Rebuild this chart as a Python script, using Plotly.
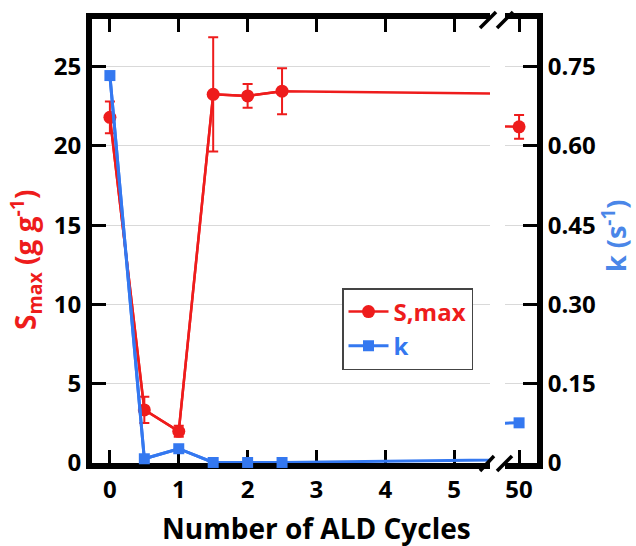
import plotly.graph_objects as go

# ---- data ----
cycles = [0, 0.5, 1, 1.5, 2, 2.5, 50]
s_max = [21.8, 3.35, 2.0, 23.25, 23.15, 23.45, 21.2]
s_err = [1.0, 0.83, 0.35, 3.6, 0.75, 1.45, 0.75]
k_vals = [0.733, 0.008, 0.027, 0.001, 0.001, 0.001, 0.076]

left_ticks = [0, 1, 2, 3, 4, 5]
right_ticks = [50]
s_ticks = [0, 5, 10, 15, 20, 25]
k_ticks = [0, 0.15, 0.30, 0.45, 0.60, 0.75]
k_ticktext = ["0", "0.15", "0.30", "0.45", "0.60", "0.75"]

RED = "#ee1c1c"
BLUE = "#3478f0"
BLUE_T = "#4a86e8"
FONT = "Open Sans"

W, H = 636, 546
L, R, T, B = 92, 99, 19, 83
PW, PH = W - L - R, H - T - B

LEFT_MAX = 5.52
RIGHT_RANGE = [49.56, 50.56]

left_idx = [i for i, c in enumerate(cycles) if c <= LEFT_MAX]
right_idx = [i for i, c in enumerate(cycles) if RIGHT_RANGE[0] <= c <= RIGHT_RANGE[1]]

def pick(arr, idx):
    return [arr[i] for i in idx]

fig = go.Figure()

# Left panel: connecting lines (full series, clipped at the break)
fig.add_trace(go.Scatter(x=cycles, y=s_max, mode="lines", line=dict(color=RED, width=2.5),
                         xaxis="x", yaxis="y", showlegend=False, hoverinfo="skip"))
fig.add_trace(go.Scatter(x=cycles, y=k_vals, mode="lines", line=dict(color=BLUE, width=3),
                         xaxis="x", yaxis="y2", showlegend=False, hoverinfo="skip"))
# Left panel markers
fig.add_trace(go.Scatter(x=pick(cycles, left_idx), y=pick(s_max, left_idx),
                         error_y=dict(type="data", array=pick(s_err, left_idx), color=RED,
                                      thickness=2, width=5),
                         mode="lines+markers", line=dict(color=RED, width=2.5),
                         marker=dict(symbol="circle", size=13, color=RED),
                         name=f'<span style="color:{RED}">S,max</span>',
                         xaxis="x", yaxis="y", cliponaxis=False))
fig.add_trace(go.Scatter(x=pick(cycles, left_idx), y=pick(k_vals, left_idx),
                         mode="lines+markers", line=dict(color=BLUE, width=3),
                         marker=dict(symbol="square", size=11, color=BLUE),
                         name=f'<span style="color:{BLUE}">k</span>',
                         xaxis="x", yaxis="y2", cliponaxis=False))

# Right panel
fig.add_trace(go.Scatter(x=cycles, y=s_max, mode="lines", line=dict(color=RED, width=2.5),
                         xaxis="x2", yaxis="y3", showlegend=False, hoverinfo="skip"))
fig.add_trace(go.Scatter(x=cycles, y=k_vals, mode="lines", line=dict(color=BLUE, width=3),
                         xaxis="x2", yaxis="y4", showlegend=False, hoverinfo="skip"))
fig.add_trace(go.Scatter(x=pick(cycles, right_idx), y=pick(s_max, right_idx),
                         error_y=dict(type="data", array=pick(s_err, right_idx), color=RED,
                                      thickness=2, width=5),
                         mode="markers", marker=dict(symbol="circle", size=13, color=RED),
                         xaxis="x2", yaxis="y3", showlegend=False, cliponaxis=False))
fig.add_trace(go.Scatter(x=pick(cycles, right_idx), y=pick(k_vals, right_idx),
                         mode="markers", marker=dict(symbol="square", size=11, color=BLUE),
                         xaxis="x2", yaxis="y4", showlegend=False, cliponaxis=False))

tickfont = dict(family=FONT, size=24, color="black", weight="bold")
common_x = dict(ticks="inside", ticklen=13, tickwidth=3, tickcolor="black",
                showline=True, linewidth=6, linecolor="black", mirror="ticks",
                showgrid=False, zeroline=False, tickfont=tickfont, layer="below traces")

d1 = (490 - L) / PW
d2 = (505 - L) / PW

fig.update_layout(
    width=W, height=H, autosize=False,
    margin=dict(l=L, r=R, t=T, b=B),
    paper_bgcolor="white", plot_bgcolor="white",
    font=dict(family=FONT, color="black"),
    xaxis=dict(domain=[0, d1], range=[-0.26, LEFT_MAX], tickvals=left_ticks,
               anchor="y", **common_x),
    xaxis2=dict(domain=[d2, 1], range=RIGHT_RANGE, tickvals=right_ticks,
                anchor="y3", **common_x),
    yaxis=dict(domain=[0, 1], range=[0, 28], tickvals=s_ticks, anchor="x", side="left",
               ticks="inside", ticklen=14, tickwidth=3, tickcolor="black",
               showline=True, linewidth=6, linecolor="black",
               showgrid=True, gridcolor="#d9d9d9", gridwidth=1, zeroline=False,
               tickfont=tickfont, layer="below traces"),
    yaxis2=dict(range=[0, 0.84], overlaying="y", anchor="x", visible=False),
    yaxis3=dict(domain=[0, 1], range=[0, 28], tickvals=s_ticks, anchor="x2",
                showgrid=True, gridcolor="#d9d9d9", gridwidth=1, zeroline=False,
                showticklabels=False, ticks="", showline=False),
    yaxis4=dict(range=[0, 0.84], overlaying="y3", anchor="x2", side="right",
                tickvals=k_ticks, ticktext=k_ticktext,
                ticks="inside", ticklen=14, tickwidth=3, tickcolor="black",
                showline=True, linewidth=6, linecolor="black",
                showgrid=False, zeroline=False, tickfont=tickfont, layer="below traces"),
    legend=dict(x=(342 - L) / PW, y=(H - B - 288) / PH, xanchor="left", yanchor="top",
                bgcolor="white", bordercolor="#444444", borderwidth=1.5,
                font=dict(family=FONT, size=24, weight="bold"),
                tracegroupgap=0, itemwidth=40),
    showlegend=True,
)

def px(xp):
    return (xp - L) / PW

def py(yp):
    return (H - B - yp) / PH

fig.add_annotation(text="Number of ALD Cycles", xref="paper", yref="paper",
                   x=px(316), y=py(528), xanchor="center", yanchor="middle",
                   showarrow=False,
                   font=dict(family=FONT, size=28, color="black", weight="bold"))
fig.add_annotation(text="S<sub>max</sub> (g g<sup>-1</sup>)", xref="paper", yref="paper",
                   x=px(25), y=py(260), xanchor="center", yanchor="middle",
                   textangle=-90, showarrow=False,
                   font=dict(family=FONT, size=28, color=RED, weight="bold"))
fig.add_annotation(text="k (s<sup>-1</sup>)", xref="paper", yref="paper",
                   x=px(614), y=py(236), xanchor="center", yanchor="middle",
                   textangle=-90, showarrow=False,
                   font=dict(family=FONT, size=27, color=BLUE_T, weight="bold"))

# axis-break marks
for (x0, y0, x1, y1) in [(480, 28, 496, 12), (497, 28, 513, 12),
                         (480, 471, 494, 456), (497, 471, 512, 456)]:
    fig.add_shape(type="line", xref="paper", yref="paper",
                  x0=px(x0), y0=py(y0), x1=px(x1), y1=py(y1),
                  line=dict(color="black", width=3.5))

fig.write_html("out.html", config={"displayModeBar": False},
               post_script="document.body.style.margin='0';document.body.style.padding='0';")
